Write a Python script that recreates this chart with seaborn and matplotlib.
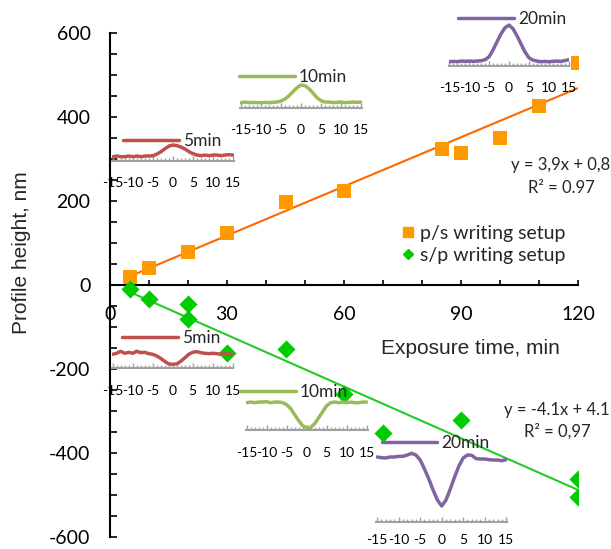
import matplotlib
matplotlib.use("Agg")
import matplotlib.pyplot as plt
import pandas as pd
import seaborn as sns
from matplotlib.lines import Line2D
from matplotlib.ticker import MultipleLocator

# exposure time (min) vs profile height (nm)
ps_time = [5, 10, 20, 30, 45, 60, 85, 90, 100, 110, 120]
ps_height = [20, 40, 78, 125, 198, 225, 325, 315, 349, 425, 528]
sp_time = [5, 10, 20, 20, 30, 45, 60, 70, 90, 120, 120]
sp_height = [-10, -34, -45, -82, -161, -153, -260, -352, -321, -462, -504]

# trend lines (slope, intercept) as printed on the chart
ps_fit = (3.9, 0.8)
sp_fit = (-4.1, 4.1)
fit_range = [5, 120]

# inset profiles, nm relative to the flat surface, position in um
prof_x = [-15, -14, -13, -12, -11, -10, -9, -8, -7, -6, -5, -4, -3, -2, -1, 0,
          1, 2, 3, 4, 5, 6, 7, 8, 9, 10, 11, 12, 13, 14, 15]
up_5 = [0, 2, 0, 0, 2, 0, 2, 0, 2, 2, 3, 8, 15, 24, 32, 35, 33, 29, 23, 15, 9, 5, 3, 5, 3, 5, 5, 3, 5, 6, 5]
up_10 = [0, 2, 0, 1, 0, 0, 1, 0, 1, 2, 5, 11, 21, 33, 45, 53, 51, 42, 29, 15, 6, 2, 2, 0, 1, 2, 0, 1, 2, 1, 2]
up_20 = [0, 1, 0, 2, 1, 2, 1, 2, 3, 6, 15, 36, 60, 84, 102, 110, 99, 78, 54, 30, 12, 5, 2, 0, 1, 0, 1, 2, 1, 3, 6]
dn_5 = [0, 3, 9, 3, 6, 3, 9, 5, 6, 2, 0, -5, -12, -21, -29, -30, -29, -21, -11, 0, 6, 8, 5, 3, 2, 3, 2, 0, 2, 0, 0]
dn_10 = [0, 2, 0, 2, 2, 3, 0, 2, 2, 0, -6, -18, -36, -54, -69, -75, -74, -63, -45, -27, -9, 0, 2, 0, 2, 0, 2, 0, 0, 2, 2]
dn_20 = [0, -2, -3, 0, 0, 2, 2, 6, 11, 6, -9, -36, -66, -99, -129, -147, -129, -96, -60, -27, -3, 6, 5, -5, -6, -6, -8, -9, -9, -11, -8]

W, H = 611, 549
sns.set_theme(style="white")
plt.rcParams["font.family"] = ["Lato", "DejaVu Sans"]
plt.rcParams["axes.unicode_minus"] = False

fig = plt.figure(figsize=(W / 100, H / 100), dpi=100)
ax = fig.add_axes([110 / W, 12 / H, 468 / W, 504 / H])

ps = pd.DataFrame({"time": ps_time, "height": ps_height})
sp = pd.DataFrame({"time": sp_time, "height": sp_height})

for (k, b), col in [(ps_fit, "#FF6600"), (sp_fit, "#22CC22")]:
    sns.lineplot(x=fit_range, y=[k * t + b for t in fit_range], color=col, lw=1.5, ax=ax, zorder=2)
sns.scatterplot(data=ps, x="time", y="height", marker="s", s=88, color="#FF9900", linewidth=0, ax=ax, zorder=3)
sns.scatterplot(data=sp, x="time", y="height", marker="D", s=85, color="#00CC00", linewidth=0, ax=ax, zorder=3)

ax.set_xlim(0, 120)
ax.set_ylim(-600, 600)
ax.xaxis.set_major_locator(MultipleLocator(30))
ax.xaxis.set_minor_locator(MultipleLocator(10))
ax.yaxis.set_major_locator(MultipleLocator(200))
ax.yaxis.set_minor_locator(MultipleLocator(50))
ax.spines["bottom"].set_position(("data", 0))
ax.spines[["top", "right"]].set_visible(False)
for s in ["left", "bottom"]:
    ax.spines[s].set_color("black")
    ax.spines[s].set_linewidth(1.5)
ax.tick_params(axis="x", which="both", bottom=True, direction="in", length=3.6, width=1.2,
               pad=15, labelsize=14, colors="black")
ax.tick_params(axis="y", which="both", left=True, direction="in", length=5, width=1.2,
               pad=14, labelsize=14, colors="black")

ax.set_xlabel("Exposure time, min", fontsize=15, family=["Liberation Sans"])
ax.xaxis.label.set_va("center")
ax.xaxis.set_label_coords(0.771, 0.375)
ax.set_ylabel("Profile height, nm", fontsize=15, family=["Liberation Sans"])
ax.yaxis.label.set_va("center")
ax.yaxis.set_label_coords(-0.1887, 0.565)

ax.text(115.5, 285.7, "y = 3,9x + 0,8", ha="center", va="center", fontsize=12)
ax.text(115.7, 231, "R² = 0.97", ha="center", va="center", fontsize=12)
ax.text(114.5, -297.6, "y = -4.1x + 4.1", ha="center", va="center", fontsize=12)
ax.text(114.7, -347.6, "R² = 0,97", ha="center", va="center", fontsize=12)

handles = [Line2D([], [], marker="s", color="#FF9900", ls="none", markersize=7),
           Line2D([], [], marker="D", color="#00CC00", ls="none", markersize=5)]
ax.legend(handles, ["p/s writing setup", "s/p writing setup"], loc="center left",
          bbox_to_anchor=(0.620, 0.581), frameon=False, fontsize=14, handlelength=0.8,
          handletextpad=0.2, borderpad=0, borderaxespad=0, labelspacing=0.25)

# insets: profile, x of 0, px per um, y of gray axis, baseline height, legend start, legend y, label pad
insets = [
    (up_5, "5min", "#C0504D", 173, 4.0, 160.7, 4, 123, 141, 12),
    (up_10, "10min", "#9BBB59", 301, 4.0, 107.7, 5, 239, 77, 12),
    (up_20, "20min", "#8064A2", 509, 3.97, 65.7, 4, 458, 19, 12),
    (dn_5, "5min", "#C0504D", 172.7, 4.0, 368.3, 14, 122, 338.3, 12),
    (dn_10, "10min", "#9BBB59", 306.7, 4.0, 430, 27.3, 240, 391.7, 12),
    (dn_20, "20min", "#8064A2", 441.7, 4.3, 522, 65, 381.7, 443, 9),
]
for prof, lab, col, x0, ppu, axis_y, base, lx, ly, lpad in insets:
    left_px = x0 - 15.2 * ppu
    w_px = 30.4 * ppu
    top_px = ly - 12
    h_px = axis_y - top_px
    iax = fig.add_axes([left_px / W, 1 - axis_y / H, w_px / W, h_px / H])
    iax.patch.set_alpha(0)
    sns.lineplot(x=prof_x, y=prof, color=col, lw=2.5, ax=iax, label=lab)
    iax.set_xlim(-15.2, 15.2)
    iax.set_ylim(-base * 3, (h_px - base) * 3)
    iax.spines[["top", "right", "left"]].set_visible(False)
    iax.spines["bottom"].set_color("#A0A0A0")
    iax.spines["bottom"].set_linewidth(1.5)
    iax.set_yticks([])
    iax.set_xticks([-15, -10, -5, 0, 5, 10, 15])
    iax.xaxis.set_minor_locator(MultipleLocator(1))
    iax.tick_params(axis="x", which="major", bottom=True, direction="in", length=3.5, width=1,
                    color="#A0A0A0", labelcolor="black", labelsize=10, pad=lpad)
    iax.tick_params(axis="x", which="minor", bottom=True, direction="in", length=2, width=1,
                    color="#A0A0A0")
    iax.set_xlabel("")
    iax.set_ylabel("")
    iax.legend(loc="center left", bbox_to_anchor=((lx - left_px) / w_px, (axis_y - ly) / h_px),
               frameon=False, fontsize=12.5, handlelength=3.2, handletextpad=0.25,
               borderpad=0, borderaxespad=0)

fig.savefig("out.png", dpi=100)
